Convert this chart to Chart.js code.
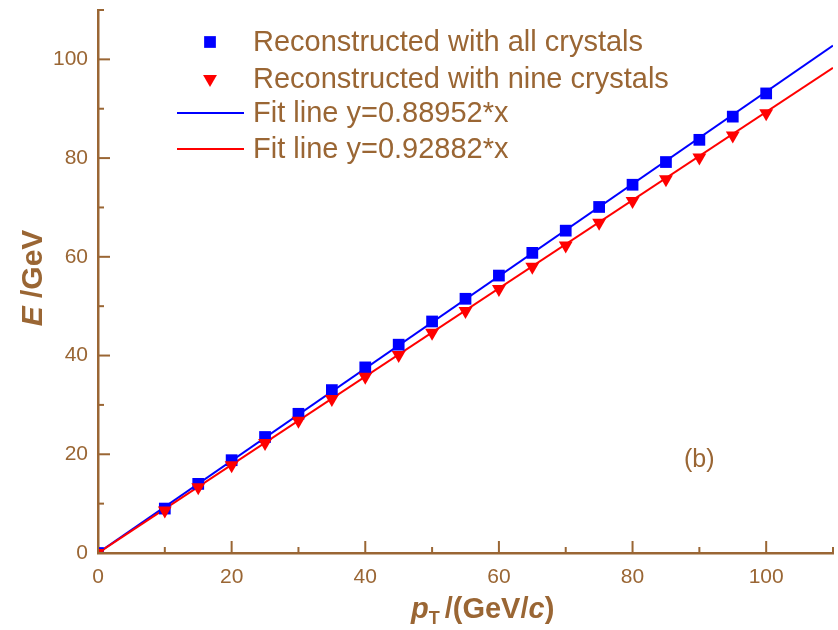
<!DOCTYPE html>
<html>
<head>
<meta charset="utf-8">
<script src="https://cdn.jsdelivr.net/npm/chart.js@4.4.1/dist/chart.umd.min.js"></script>
<style>
  html, body { margin: 0; padding: 0; background: #fff; }
  #wrap { width: 838px; height: 630px; position: relative; }
</style>
</head>
<body>
<div id="wrap"><canvas id="energyChart" width="838" height="630"></canvas></div>
<script>
// data
const ptValues = [0, 10, 15, 20, 25, 30, 35, 40, 45, 50, 55, 60, 65, 70, 75, 80, 85, 90, 95, 100];
const allCrystals = [0, 9.0, 14.0, 18.8, 23.5, 28.2, 33.0, 37.6, 42.2, 46.9, 51.5, 56.2, 60.8, 65.3, 70.1, 74.6, 79.2, 83.7, 88.4, 93.1];
const nineCrystals = [0, 8.6, 13.3, 17.8, 22.3, 26.8, 31.2, 35.7, 40.1, 44.6, 49.0, 53.5, 58.0, 62.3, 66.9, 71.3, 75.7, 80.1, 84.6, 89.1];
const fitLineX = [0, 110];
const fitBlueY = [0, 102.8];
const fitRedY = [0, 98.3];
const majorTicks = [0, 20, 40, 60, 80, 100];
const minorTicks = [10, 30, 50, 70, 90, 110];
const legendLabels = ['Reconstructed with all crystals', 'Reconstructed with nine crystals', 'Fit line y=0.88952*x', 'Fit line y=0.92882*x'];

const brown = '#9a6634';
const fontFamily = '"Liberation Sans", Arial, sans-serif';

const toPoints = (xs, ys) => xs.map((x, i) => ({ x: x, y: ys[i] }));

// inward ticks, legend, axis titles and the (b) note
const decorations = {
  id: 'decorations',
  afterDraw(chart) {
    const ctx = chart.ctx;
    const area = chart.chartArea;
    const xs = chart.scales.x, ys = chart.scales.y;
    ctx.save();
    ctx.strokeStyle = brown;
    ctx.lineWidth = 2;
    const tick = (vals, len) => {
      vals.forEach(v => {
        const px = xs.getPixelForValue(v);
        ctx.beginPath(); ctx.moveTo(px, area.bottom); ctx.lineTo(px, area.bottom - len); ctx.stroke();
        const py = ys.getPixelForValue(v);
        ctx.beginPath(); ctx.moveTo(area.left, py); ctx.lineTo(area.left + len, py); ctx.stroke();
      });
    };
    tick(majorTicks, 12);
    tick(minorTicks, 6);

    // legend
    ctx.font = '29px ' + fontFamily;
    ctx.textBaseline = 'middle';
    ctx.textAlign = 'left';
    const rows = [42, 79, 113, 149];
    chart.data.datasets.forEach((ds, i) => {
      const cy = rows[i];
      if (ds.showLine) {
        ctx.strokeStyle = ds.borderColor;
        ctx.lineWidth = 2;
        ctx.beginPath(); ctx.moveTo(177, cy); ctx.lineTo(244, cy); ctx.stroke();
      } else {
        ctx.fillStyle = ds.backgroundColor;
        Chart.helpers.drawPoint(ctx, {
          pointStyle: ds.pointStyle, rotation: ds.rotation || 0,
          radius: ds.pointRadius, borderWidth: 0
        }, 210, cy);
      }
      ctx.fillStyle = brown;
      ctx.fillText(legendLabels[i], 253, rows[i] + 1);
    });

    // (b)
    ctx.font = '25px ' + fontFamily;
    ctx.fillText('(b)', xs.getPixelForValue(87.7), ys.getPixelForValue(18.9));

    // x title: pT /(GeV/c)
    ctx.textBaseline = 'alphabetic';
    let x = 411;
    const base = 618;
    ctx.font = 'italic bold 29px ' + fontFamily;
    ctx.fillText('p', x, base); x += ctx.measureText('p').width;
    ctx.font = 'bold 18px ' + fontFamily;
    ctx.fillText('T', x, base + 6); x += ctx.measureText('T').width + 5;
    ctx.font = 'bold 29px ' + fontFamily;
    ctx.fillText('/(GeV/', x, base); x += ctx.measureText('/(GeV/').width;
    ctx.font = 'italic bold 29px ' + fontFamily;
    ctx.fillText('c', x, base); x += ctx.measureText('c').width;
    ctx.font = 'bold 29px ' + fontFamily;
    ctx.fillText(')', x, base);

    // y title: E /GeV
    ctx.translate(42, 278);
    ctx.rotate(-Math.PI / 2);
    ctx.font = 'italic bold 30px ' + fontFamily;
    const w1 = ctx.measureText('E ').width;
    ctx.font = 'bold 30px ' + fontFamily;
    const w2 = ctx.measureText('/GeV').width;
    const tx = -(w1 + w2) / 2;
    ctx.font = 'italic bold 30px ' + fontFamily;
    ctx.fillText('E ', tx, 0);
    ctx.font = 'bold 30px ' + fontFamily;
    ctx.fillText('/GeV', tx + w1, 0);
    ctx.restore();
  }
};

const axisCommon = {
  type: 'linear',
  min: 0,
  max: 110,
  grid: { display: false, drawTicks: false },
  border: { display: true, color: brown, width: 2.5 },
  afterBuildTicks: scale => { scale.ticks = majorTicks.map(v => ({ value: v })); },
  ticks: { color: brown, font: { family: fontFamily, size: 21 } }
};

new Chart(document.getElementById('energyChart'), {
  type: 'scatter',
  data: {
    datasets: [
      {
        label: legendLabels[0],
        data: toPoints(ptValues, allCrystals),
        pointStyle: 'rect',
        pointRadius: 8.3,
        backgroundColor: '#0000ff',
        borderWidth: 0,
        order: 1
      },
      {
        label: legendLabels[1],
        data: toPoints(ptValues, nineCrystals),
        pointStyle: 'triangle',
        rotation: 180,
        pointRadius: 8,
        backgroundColor: '#ff0000',
        borderWidth: 0,
        order: 0
      },
      {
        label: legendLabels[2],
        data: toPoints(fitLineX, fitBlueY),
        showLine: true,
        borderColor: '#0000ff',
        borderWidth: 2,
        pointRadius: 0,
        order: 3
      },
      {
        label: legendLabels[3],
        data: toPoints(fitLineX, fitRedY),
        showLine: true,
        borderColor: '#ff0000',
        borderWidth: 2,
        pointRadius: 0,
        order: 2
      }
    ]
  },
  options: {
    responsive: false,
    animation: false,
    layout: { autoPadding: false, padding: { left: 0, right: 5, top: 10, bottom: 0 } },
    plugins: { legend: { display: false }, tooltip: { enabled: false } },
    scales: {
      x: Object.assign({}, axisCommon, {
        ticks: Object.assign({}, axisCommon.ticks, { padding: 12, maxRotation: 0 }),
        afterFit: scale => {
          scale.height = 77;
          scale.paddingLeft = 0;
          scale.paddingRight = 0;
        }
      }),
      y: Object.assign({}, axisCommon, {
        ticks: Object.assign({}, axisCommon.ticks, { padding: 10 }),
        afterFit: scale => {
          scale.width = 98;
          scale.paddingTop = 0;
          scale.paddingBottom = 0;
        }
      })
    }
  },
  plugins: [decorations]
});
</script>
</body>
</html>
